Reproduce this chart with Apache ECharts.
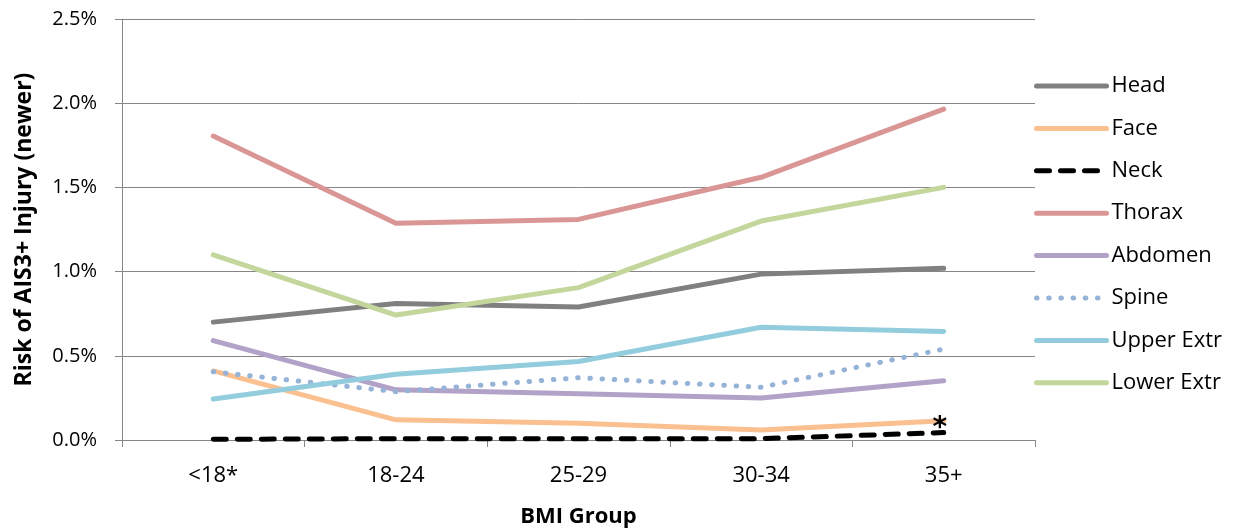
<!DOCTYPE html>
<html><head><meta charset="utf-8">
<script src="https://cdn.jsdelivr.net/npm/echarts@6/dist/echarts.min.js"></script>
<style>html,body{margin:0;padding:0;background:#fff}#c{width:1237px;height:531px}</style>
</head><body><div id="c"></div>
<script>
const categories = ['<18*', '18-24', '25-29', '30-34', '35+'];
const yTicks = [0, 0.5, 1.0, 1.5, 2.0, 2.5];
const head = [0.70, 0.81, 0.79, 0.985, 1.02];
const face = [0.41, 0.12, 0.10, 0.06, 0.115];
const neck = [0.004, 0.008, 0.007, 0.008, 0.044];
const thorax = [1.805, 1.287, 1.31, 1.56, 1.965];
const abdomen = [0.59, 0.298, 0.275, 0.25, 0.352];
const spine = [0.405, 0.287, 0.37, 0.313, 0.54];
const upperExtr = [0.243, 0.39, 0.466, 0.67, 0.645];
const lowerExtr = [1.10, 0.742, 0.905, 1.30, 1.50];
const noteCategory = '35+';
const noteText = '*';

const FONT = 'Open Sans';
function mk(name, data, color, type, extra) {
  return Object.assign({
    name, type: 'line', data, symbol: 'circle', symbolSize: 1, showSymbol: false, smooth: false,
    lineStyle: { color, width: 5, type: type || 'solid', cap: 'round', join: 'round' },
    itemStyle: { color }, z: 3, animation: false
  }, extra || {});
}
const chart = echarts.init(document.getElementById('c'), null, { renderer: 'canvas' });
chart.setOption({
  animation: false,
  textStyle: { fontFamily: FONT, color: '#000' },
  grid: { left: 122, right: 202, top: 19, bottom: 91, containLabel: false, outerBoundsMode: 'none' },
  legend: {
    orient: 'vertical', left: 1029, top: 70,
    itemWidth: 70, itemHeight: 14, itemGap: 20.4,
    itemStyle: { opacity: 0 },
    lineStyle: { width: 5, cap: 'round' },
    textStyle: { fontFamily: FONT, fontSize: 22, color: '#000' },
    data: ['Head', 'Face', 'Neck', 'Thorax', 'Abdomen', 'Spine', 'Upper Extr', 'Lower Extr']
  },
  xAxis: {
    type: 'category', data: categories, boundaryGap: true,
    name: 'BMI Group', nameLocation: 'middle', nameGap: 66,
    nameTextStyle: { fontFamily: FONT, fontSize: 22, fontWeight: 'bold', color: '#000' },
    axisLine: { lineStyle: { color: '#868686', width: 1 } },
    axisTick: { show: true, length: 7, lineStyle: { color: '#868686' } },
    axisLabel: { fontFamily: FONT, fontSize: 22, color: '#000', margin: 25 },
    splitLine: { show: false }
  },
  yAxis: {
    type: 'value', min: yTicks[0], max: yTicks[yTicks.length - 1], interval: 0.5,
    name: 'Risk of AIS3+ Injury (newer)', nameLocation: 'middle', nameGap: 86, nameRotate: 90,
    nameTextStyle: { fontFamily: FONT, fontSize: 23, fontWeight: 'bold', color: '#000' },
    axisLine: { show: true, lineStyle: { color: '#868686', width: 1 } },
    axisTick: { show: true, length: 7, lineStyle: { color: '#868686' } },
    axisLabel: { fontFamily: FONT, fontSize: 20, color: '#000', margin: 25,
      formatter: v => v.toFixed(1) + '%' },
    splitLine: { show: true, lineStyle: { color: '#868686', width: 1 } }
  },
  series: [
    mk('Head', head, '#808080'),
    mk('Face', face, '#FAC090'),
    mk('Neck', neck, '#000000', [13, 11], {
      markPoint: {
        symbol: 'circle', symbolSize: 1, silent: true,
        itemStyle: { color: 'rgba(0,0,0,0)' },
        label: { show: true, position: 'inside', offset: [-4, -4], fontSize: 28, fontWeight: 'bold',
          color: '#000', fontFamily: 'DejaVu Sans', formatter: noteText },
        data: [{ coord: [noteCategory, neck[categories.indexOf(noteCategory)]] }]
      }
    }),
    mk('Thorax', thorax, '#D99694'),
    mk('Abdomen', abdomen, '#B3A2C7'),
    mk('Spine', spine, '#95B3D7', [0.5, 11.7]),
    mk('Upper Extr', upperExtr, '#93CDDD'),
    mk('Lower Extr', lowerExtr, '#C3D69B')
  ]
});
</script></body></html>
